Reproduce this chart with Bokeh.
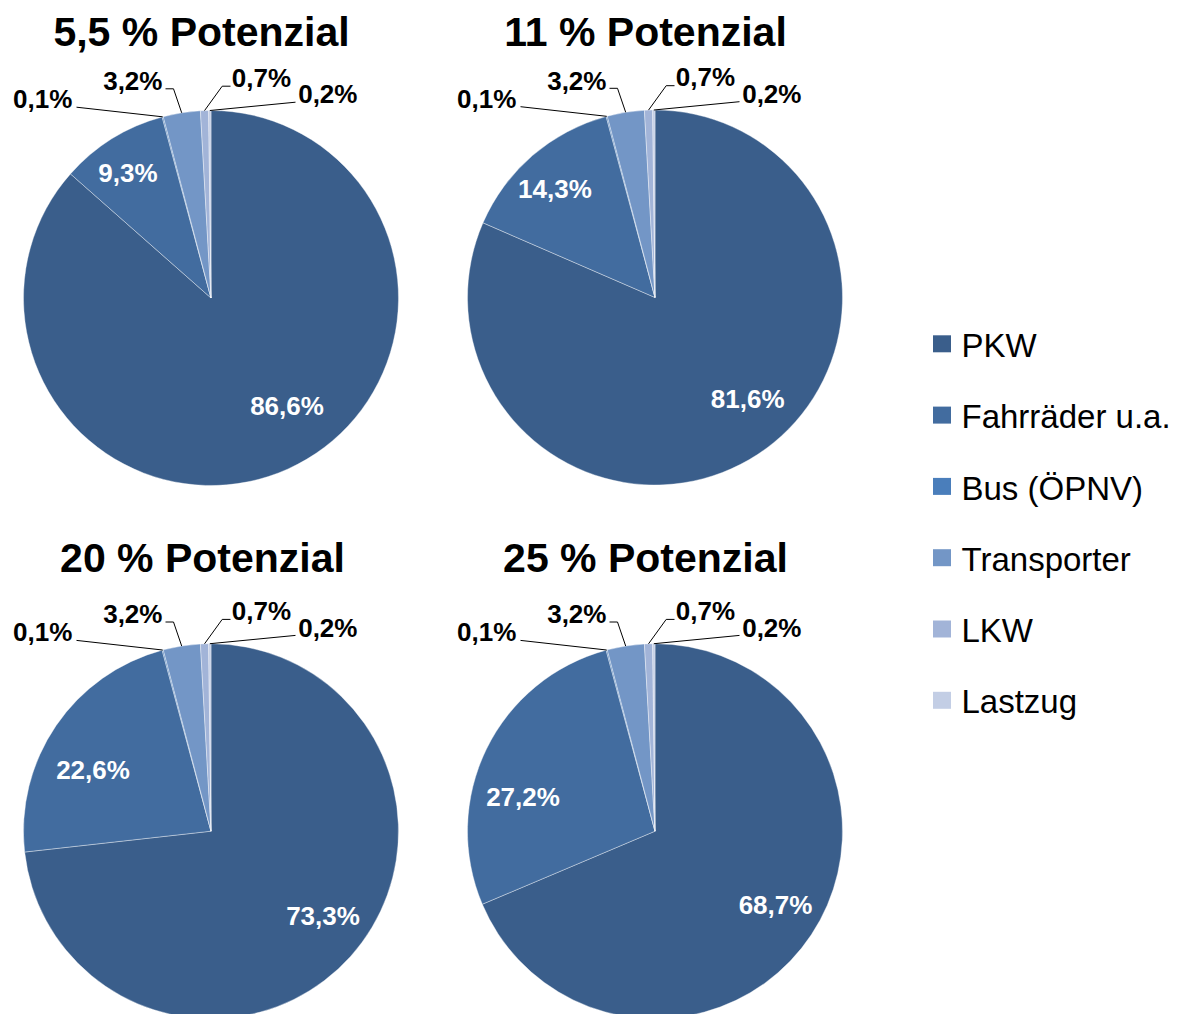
import numpy as np
from bokeh.plotting import figure
from bokeh.models import Range1d
from bokeh.core.properties import value
from bokeh.embed import file_html
from bokeh.resources import INLINE

# ---- data -------------------------------------------------------------
categories = ["PKW", "Fahrräder u.a.", "Bus (ÖPNV)", "Transporter", "LKW", "Lastzug"]
titles = ["5,5 % Potenzial", "11 % Potenzial", "20 % Potenzial", "25 % Potenzial"]

pkw = [86.6, 81.6, 73.3, 68.7]
fahrraeder = [9.3, 14.3, 22.6, 27.2]
bus = [0.1, 0.1, 0.1, 0.1]
transporter = [3.2, 3.2, 3.2, 3.2]
lkw = [0.7, 0.7, 0.7, 0.7]
lastzug = [0.2, 0.2, 0.2, 0.2]

colors = ["#3A5E8B", "#426C9F", "#4A7EBB", "#7396C6", "#A2B4D8", "#C3CEE5"]

# ---- layout (pixel coordinates, y measured from the top) --------------
W, H = 1191, 1014
R = 187.5
centers = [(210.5, 297.5), (654.5, 297.0), (210.5, 830.7), (654.5, 830.7)]
title_pos = [(201, 46.7), (645, 46.7), (202, 572), (645, 572)]

# inside labels: (dx, baseline dy) from the pie centre
inner_offsets = {
    0: [(76, 117.5), (92.7, 111), (112, 94.3), (120.5, 83.3)],
    1: [(-83, -115.8), (-100.1, -98.7), (-118, -51.4), (-132, -24.7)],
}
# outside labels for the small slices: text (dx, baseline dy), leader start, optional elbow
outer_layout = {
    2: dict(text=(-168.3, -189.5), start=(-134.5, -190.8), elbow=None),
    3: dict(text=(-78.2, -207.5), start=(-45.5, -209.2), elbow=(-37.5, -209.2)),
    4: dict(text=(50.5, -210.8), start=(19.5, -211.8), elbow=(11.2, -211.8)),
    5: dict(text=(116.8, -194.2), start=(84.5, -195.8), elbow=None),
}

FONT = value("Liberation Sans")
TITLE_PX, LABEL_PX, LEGEND_PX = 41, 26, 33
RAISE = 0.36  # baseline correction, as a fraction of the font size


def Y(py):
    return H - py


def Yt(py, size):
    # text y: baseline position, lifted so the glyphs sit on it
    return H - (py - RAISE * size)


def fmt(v):
    return f"{v:.1f}".replace(".", ",") + "%"


p = figure(width=W, height=H, x_range=Range1d(0, W), y_range=Range1d(0, H),
           output_backend="svg", toolbar_location=None, min_border=0)
p.axis.visible = False
p.grid.visible = False
p.outline_line_color = None
p.background_fill_color = "white"
p.border_fill_color = "white"

shares = np.array([pkw, fahrraeder, bus, transporter, lkw, lastzug]).T

for i, (cx, cy) in enumerate(centers):
    vals = shares[i]
    frac = vals / vals.sum()
    cum = np.concatenate([[0.0], np.cumsum(frac)])
    start = np.pi / 2 - 2 * np.pi * cum[:-1]
    end = np.pi / 2 - 2 * np.pi * cum[1:]
    p.wedge(x=[cx] * len(vals), y=[Y(cy)] * len(vals), radius=R,
            start_angle=list(start), end_angle=list(end), direction="clock",
            fill_color=colors, line_color="white", line_alpha=0.55, line_width=0.7)

    # title
    tx, ty = title_pos[i]
    p.text(x=[tx], y=[Yt(ty, TITLE_PX)], text=[titles[i]], text_font=FONT,
           text_font_style="bold", text_font_size=f"{TITLE_PX}px", text_align="center",
           text_baseline="alphabetic", text_color="black")

    # labels inside the two large slices
    for k in (0, 1):
        dx, dy = inner_offsets[k][i]
        p.text(x=[cx + dx], y=[Yt(cy + dy, LABEL_PX)], text=[fmt(vals[k])], text_font=FONT,
               text_font_style="bold", text_font_size=f"{LABEL_PX}px", text_align="center",
               text_baseline="alphabetic", text_color="white")

    # labels with leader lines for the small slices
    xs, ys = [], []
    for k, lay in outer_layout.items():
        mid = 2 * np.pi * (cum[k] + cum[k + 1]) / 2
        ax, ay = cx + R * np.sin(mid), cy - R * np.cos(mid)
        pts = [(cx + lay["start"][0], cy + lay["start"][1])]
        if lay["elbow"] is not None:
            pts.append((cx + lay["elbow"][0], cy + lay["elbow"][1]))
        pts.append((ax, ay))
        xs.append([q[0] for q in pts])
        ys.append([Y(q[1]) for q in pts])
        dx, dy = lay["text"]
        p.text(x=[cx + dx], y=[Yt(cy + dy, LABEL_PX)], text=[fmt(vals[k])], text_font=FONT,
               text_font_style="bold", text_font_size=f"{LABEL_PX}px", text_align="center",
               text_baseline="alphabetic", text_color="black")
    p.multi_line(xs=xs, ys=ys, line_color="black", line_width=1)

# ---- legend ----------------------------------------------------------
leg_x, leg_y0, leg_step = 941.5, 343.3, 71.3
leg_y = [leg_y0 + j * leg_step for j in range(len(categories))]
p.rect(x=[leg_x] * len(categories), y=[Y(v) for v in leg_y], width=18, height=17,
       fill_color=colors, line_color=None)
p.text(x=[961] * len(categories), y=[Yt(v + 13.5, LEGEND_PX) for v in leg_y], text=categories,
       text_font=FONT, text_font_size=f"{LEGEND_PX}px", text_align="left",
       text_baseline="alphabetic", text_color="black")

open("out.html", "w").write(file_html(p, INLINE))
